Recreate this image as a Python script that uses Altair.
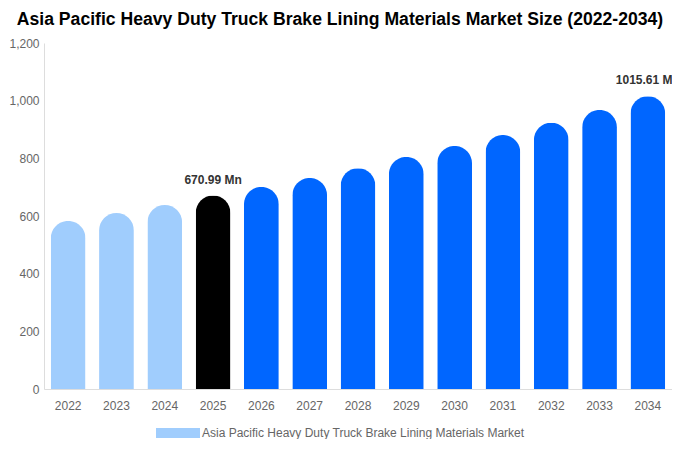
import altair as alt
import pandas as pd

years = [2022, 2023, 2024, 2025, 2026, 2027, 2028, 2029, 2030, 2031, 2032, 2033, 2034]
values = [583, 610, 638, 670.99, 701, 732, 766, 805, 843, 881, 923, 968, 1015.61]
labels = ["", "", "", "670.99 Mn", "", "", "", "", "", "", "", "", "1015.61 Mn"]
series_name = "Asia Pacific Heavy Duty Truck Brake Lining Materials Market"

df = pd.DataFrame({"year": years, "value": values, "label": labels, "series": series_name})

x = alt.X("year:O", title=None,
          scale=alt.Scale(paddingInner=0.28, paddingOuter=0.14),
          axis=alt.Axis(labelAngle=0, ticks=False, labelPadding=11, labelColor="#666666",
                        labelFontSize=12, labelFont="Liberation Sans",
                        domainColor="#dddddd"))
y = alt.Y("value:Q", title=None,
          scale=alt.Scale(domain=[0, 1200], nice=False),
          axis=alt.Axis(values=[0, 200, 400, 600, 800, 1000, 1200], format=",d",
                        ticks=False, grid=False, labelPadding=5, labelColor="#666666",
                        labelFontSize=12, labelFont="Liberation Sans",
                        domainColor="#dddddd"))

color = alt.Color("series:N", title=None,
                  scale=alt.Scale(domain=[series_name], range=["#a0cdfd"]),
                  legend=alt.Legend(orient="none", legendX=112, legendY=368,
                                    symbolType="M-1,-0.23H1V0.23H-1Z", symbolSize=1936,
                                    symbolStrokeWidth=0, labelFontSize=12, labelColor="#666666",
                                    labelFont="Liberation Sans", padding=0, symbolOffset=0,
                                    labelOffset=2, labelLimit=600),
                  condition=[{"test": "datum.year == 2025", "value": "#000000"},
                             {"test": "datum.year > 2025", "value": "#0066ff"}])

bars = alt.Chart(df).mark_bar(cornerRadiusTopLeft=17.5, cornerRadiusTopRight=17.5).encode(
    x=x, y=y, color=color)

text = alt.Chart(df).mark_text(dy=-16, fontSize=12, fontWeight="bold", color="#333333",
                               font="Liberation Sans").encode(
    x="year:O", y="value:Q", text="label:N")

chart = alt.layer(bars, text).properties(
    width=628, height=346,
    autosize=alt.AutoSizeParams(type="none"),
    padding={"left": 36, "top": 35, "right": 0, "bottom": 50},
    title=alt.TitleParams(
        "Asia Pacific Heavy Duty Truck Brake Lining Materials Market Size (2022-2034)",
        font="Liberation Sans", fontSize=17.6, fontWeight="bold", color="#000000",
        anchor="middle", dx=-18, offset=8)
).configure_view(stroke=None)

chart.save("out.html", embed_options={"renderer": "svg", "actions": False})
